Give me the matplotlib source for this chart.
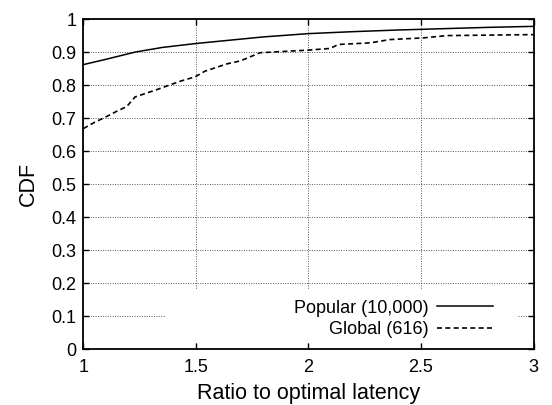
import numpy as np
import matplotlib
matplotlib.use("Agg")
import matplotlib.pyplot as plt
from matplotlib.patches import Rectangle

# CDF points
pop_x = [1.0, 1.1, 1.23, 1.35, 1.5, 1.65, 1.8, 2.0, 2.2, 2.4, 2.6, 2.8, 3.0]
pop_y = [0.863, 0.879, 0.901, 0.915, 0.927, 0.937, 0.947, 0.957, 0.963, 0.968, 0.972, 0.976, 0.979]

glob_x = [1.0, 1.05, 1.096, 1.15, 1.193, 1.23, 1.326, 1.43, 1.497, 1.54, 1.637, 1.689, 1.711, 1.785,
          1.919, 2.0, 2.096, 2.133, 2.274, 2.363, 2.51, 2.615, 3.0]
glob_y = [0.669, 0.688, 0.703, 0.722, 0.736, 0.765, 0.787, 0.8125, 0.826, 0.843, 0.865, 0.873, 0.878, 0.899,
          0.904, 0.907, 0.912, 0.924, 0.929, 0.939, 0.944, 0.951, 0.954]

xticks = [1, 1.5, 2, 2.5, 3]
xlabels = ["1", "1.5", "2", "2.5", "3"]
yticks = np.arange(0, 1.01, 0.1)
ylabels = ["0", "0.1", "0.2", "0.3", "0.4", "0.5", "0.6", "0.7", "0.8", "0.9", "1"]

plt.rcParams['font.family'] = ['Liberation Sans', 'DejaVu Sans']
plt.rcParams['font.size'] = 13

fig = plt.figure(figsize=(5.52, 4.05), dpi=100)
ax = fig.add_axes([0.151, 0.138, 0.8155, 0.814])
ax.set_axisbelow(True)

ax.plot(pop_x, pop_y, color="black", lw=1.1, label="Popular (10,000)", zorder=3)
ax.plot(glob_x, glob_y, color="black", lw=1.2, ls=(0, (3, 2)), label="Global (616)", zorder=3)

ax.set_xlim(1, 3)
ax.set_ylim(0, 1)
ax.set_xticks(xticks)
ax.set_xticklabels(xlabels)
ax.set_yticks(yticks)
ax.set_yticklabels(ylabels)
ax.tick_params(direction="in", top=True, right=True, length=4, width=1, color="black")
ax.tick_params(axis="x", pad=7)
ax.tick_params(axis="y", pad=5)
ax.grid(True, color="#555555", lw=0.7, ls=(0, (1, 1.5)))
for s in ax.spines.values():
    s.set_linewidth(1.3)

ax.set_xlabel("Ratio to optimal latency", fontsize=15.5, labelpad=5)
ax.set_ylabel("CDF", fontsize=15.5, labelpad=9)

# white box behind the key, like gnuplot
ax.add_patch(Rectangle((0.184, 0.02), 0.78, 0.159, transform=ax.transAxes,
                       facecolor="white", edgecolor="none", zorder=1))

leg = ax.legend(loc="lower right", bbox_to_anchor=(0.935, 0.0), markerfirst=False,
                frameon=False, handlelength=3.1, handletextpad=0.5, labelspacing=0.25,
                borderaxespad=0.2, fontsize=13)

fig.savefig("out.png", dpi=100)
